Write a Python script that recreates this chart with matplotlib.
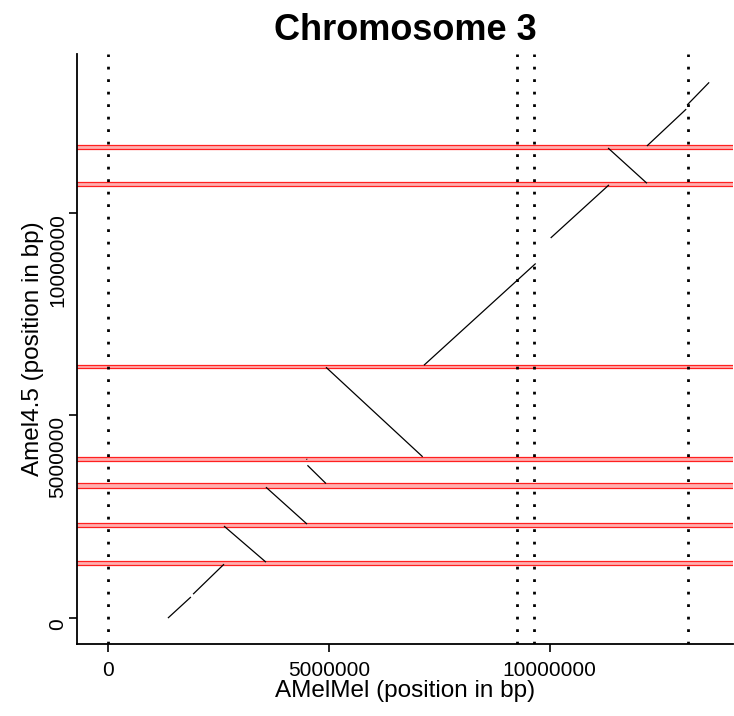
import matplotlib
matplotlib.use("Agg")
import matplotlib.pyplot as plt

plt.rcParams['font.family'] = ['Liberation Sans', 'DejaVu Sans']

# Alignment segments (bp): query (x) and reference (y)
seg_x0 = [1350000, 1920000, 2620000, 3570000, 4490000, 4510000, 4930000, 7150000, 10020000, 11320000, 12200000, 13110000]
seg_x1 = [1870000, 2620000, 3570000, 4500000, 4500000, 4930000, 7120000, 9680000, 11340000, 12200000, 13090000, 13610000]
seg_y0 = [0, 590000, 2270000, 3230000, 3930000, 3770000, 6190000, 6240000, 9380000, 11600000, 11650000, 12660000]
seg_y1 = [520000, 1330000, 1380000, 2320000, 3910000, 3320000, 3980000, 8750000, 10690000, 10730000, 12560000, 13220000]

# Breakpoint bands on the y axis (bp)
band_lo = [11570000, 10660000, 6170000, 3870000, 3210000, 2250000, 1310000]
band_hi = [11670000, 10760000, 6240000, 3980000, 3330000, 2340000, 1410000]

# Vertical dotted lines (bp)
vlines = [0, 9250000, 9650000, 13120000]

xticks = [0, 5000000, 10000000]
yticks = [0, 5000000, 10000000]

fig = plt.figure(figsize=(7.34, 7.16), dpi=100)
ax = fig.add_axes([77/734, 72/716, 656/734, 590/716])

ax.set_xlim(-710000, 14150000)
ax.set_ylim(-640000, 13920000)

for lo, hi in zip(band_lo, band_hi):
    ax.axhspan(lo, hi, facecolor='#ffb0b0', edgecolor='none', zorder=1)
    ax.axhline(lo, color='#ff2020', lw=0.9, zorder=2)
    ax.axhline(hi, color='#ff2020', lw=0.9, zorder=2)

for v in vlines:
    ax.axvline(v, color='black', lw=2.0, linestyle=(0, (1, 3.5)), zorder=3)

for a, b, c, d in zip(seg_x0, seg_x1, seg_y0, seg_y1):
    ax.plot([a, b], [c, d], color='black', lw=0.9, zorder=4, solid_capstyle='butt')

ax.spines['top'].set_visible(False)
ax.spines['right'].set_visible(False)
ax.spines['left'].set_linewidth(1.3)
ax.spines['bottom'].set_linewidth(1.3)

ax.set_xticks(xticks)
ax.set_xticklabels([str(t) for t in xticks])
ax.set_yticks(yticks)
ax.set_yticklabels([str(t) for t in yticks])
ax.tick_params(axis='both', length=6, width=1.2, labelsize=15)
ax.tick_params(axis='x', pad=6)
ax.tick_params(axis='y', pad=1)
for lab in ax.get_yticklabels():
    lab.set_rotation(90)
    lab.set_va('top')
    lab.set_ha('right')

ax.set_xlabel('AMelMel (position in bp)', fontsize=17.5, labelpad=0)
ax.set_ylabel('Amel4.5 (position in bp)', fontsize=17.5, labelpad=3)
ax.set_title('Chromosome 3', fontsize=26, fontweight='bold', pad=10)

fig.savefig('out.png', dpi=100)
